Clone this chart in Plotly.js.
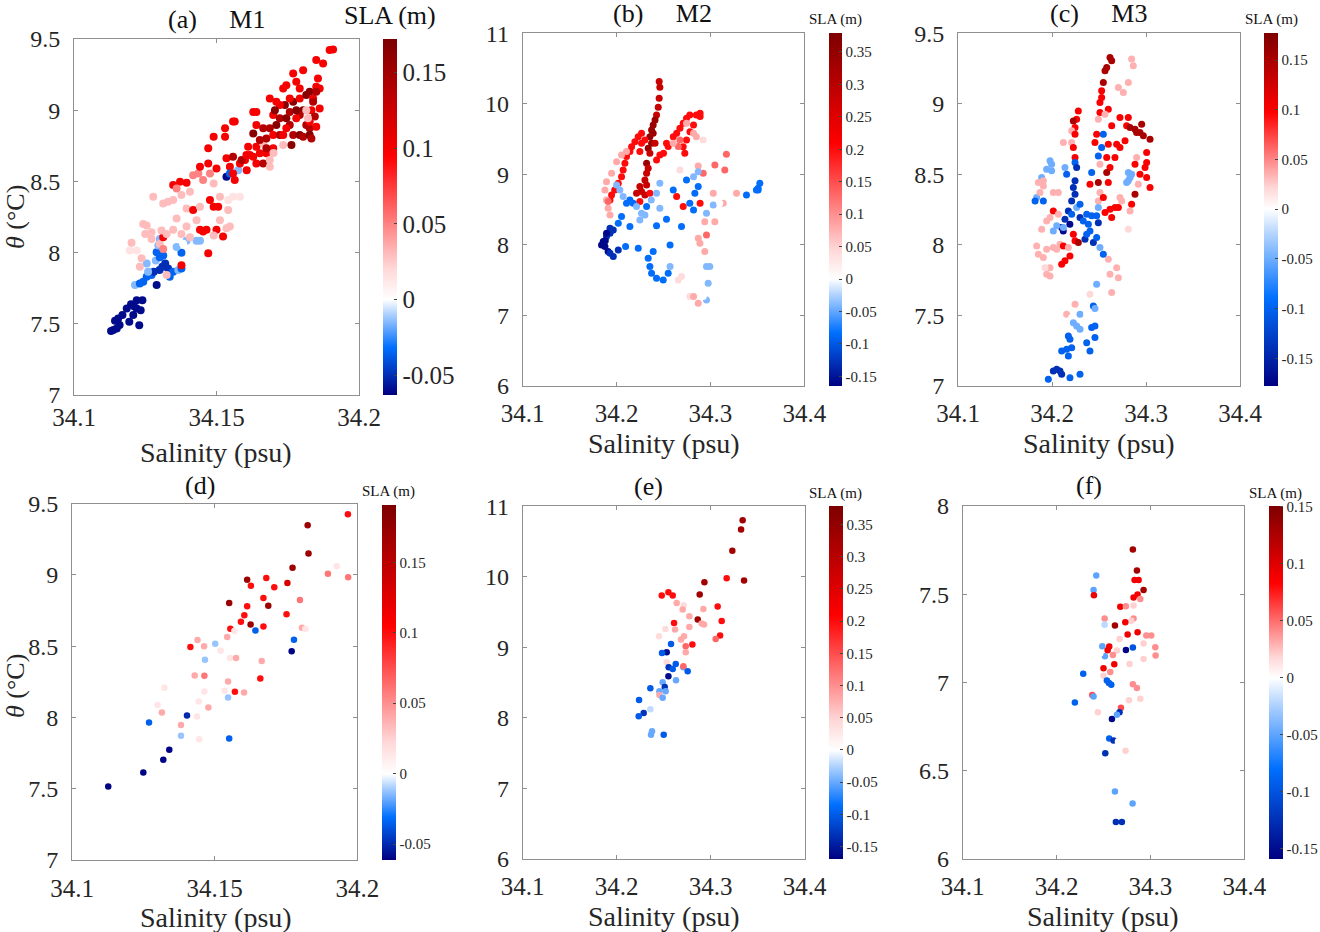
<!DOCTYPE html>
<html><head><meta charset="utf-8">
<script src="https://cdn.plot.ly/plotly-3.0.1.min.js"></script>
<style>html,body{margin:0;padding:0;background:#fff}#chart{width:1320px;height:932px}</style>
</head><body><div id="chart"></div>
<script>
// ---------------- DATA ----------------
// Panel (a) M1
const salA = [34.113,34.1144,34.1155,34.117,34.1185,34.120,34.1208,34.122,34.1229,34.1234,34.124,34.1194,34.116,34.122,34.121,34.1138,34.115,
34.1214,34.1231,34.1243,34.1255,34.1272,34.129,34.128,34.13,34.131,34.132,34.133,34.1336,34.1348,34.1366,34.1377,34.1377,34.129,34.1287,34.1301,34.1313,34.1296,34.1301,34.1336,34.1395,34.143,34.1442,34.136,34.1383,34.1255,34.126,
34.1196,34.1202,34.1243,34.1255,34.125,34.1237,34.1231,34.1202,34.122,34.1301,34.1313,34.1325,34.1377,34.1313,34.1307,34.1272,34.1272,34.1325,
34.1278,34.1313,34.133,34.1348,34.1348,34.1372,34.1395,34.136,34.1407,34.1418,34.1436,34.1442,34.1453,34.1471,34.1471,34.149,34.153,34.153,34.1558,34.1564,34.1547,34.1535,34.1558,34.149,34.150,34.1477,34.1377,34.1395,34.1418,34.1442,34.143,34.1442,34.1465,34.1453,34.150,34.1523,34.1471,34.1395,34.1377,34.136,34.1348,34.149,34.1506,34.1477,34.1512,34.1541,34.1558,34.1582,34.1541,34.1512,34.1547,34.1535,34.149,34.1407,
34.1535,34.1547,34.1576,
34.1558,34.1564,34.1582,34.16,34.1611,34.1629,34.1606,34.164,34.1664,34.1652,34.164,34.1664,34.1675,34.1687,34.1699,34.1629,34.164,34.164,34.1664,34.1675,34.1687,34.1699,34.1687,34.171,34.1699,34.1722,34.171,34.1722,34.174,34.1734,34.1734,34.1745,34.1757,34.1769,34.1757,34.1769,34.1763,34.1745,34.1734,34.1745,34.1769,34.178,34.1792,34.1804,34.1792,34.1804,34.1792,34.178,34.1815,34.1827,34.1839,34.1815,34.1827,34.1792,34.1804,34.1827,34.1833,34.1845,34.1827,34.1821,34.185,34.1833,34.185,34.1856,34.1862,34.1862,34.185,34.1874,34.1897,34.1909,34.185,34.1839,34.1815,34.178,34.1757,34.1722,34.1705,34.1652,34.1629,34.1617,34.1588,34.1605,34.1675,34.17,34.1687];
const thetaA = [7.449,7.521,7.537,7.561,7.607,7.638,7.561,7.607,7.49,7.596,7.666,7.514,7.491,7.666,7.624,7.456,7.467,
7.772,7.783,7.795,7.83,7.842,7.772,7.865,7.877,7.90,7.924,7.889,7.83,7.865,7.877,7.889,7.999,8.003,7.944,7.967,7.98,8.05,8.096,8.084,8.084,8.084,8.084,8.04,8.063,7.924,7.865,
8.014,8.07,8.2,8.19,8.131,7.96,7.90,7.83,8.014,8.061,8.026,7.842,7.912,8.108,8.155,8.096,8.143,8.131,
8.392,8.345,8.357,8.369,8.474,8.497,8.49,8.451,8.427,8.544,8.556,8.603,8.509,8.626,8.732,8.814,8.814,8.873,8.92,8.92,8.603,8.662,8.673,8.486,8.591,8.556,8.404,8.310,8.30,8.322,8.228,8.16,8.16,8.148,8.16,8.113,7.995,8.183,8.131,8.239,8.16,8.322,8.322,8.369,8.392,8.369,8.392,8.392,8.30,8.228,8.183,8.171,8.12,8.108,
8.533,8.556,8.579,
8.556,8.51,8.626,8.65,8.743,8.673,8.579,8.626,8.626,8.697,8.743,8.767,8.697,8.65,8.732,8.988,8.988,8.896,8.873,8.802,8.873,8.826,9.082,9.06,8.966,8.943,8.896,8.826,9.036,8.826,8.755,8.943,8.896,9.06,8.988,8.826,8.755,8.873,9.153,9.176,9.258,9.2,9.153,9.28,9.082,9.0,8.966,8.943,9.106,9.13,9.082,8.896,8.873,8.826,8.814,8.826,9.0,8.955,8.919,8.943,8.884,8.802,9.164,9.223,9.012,9.153,9.352,9.328,9.422,9.427,9.13,9.06,9.0,9.0,9.082,9.036,9.0,8.79,8.837,8.685,8.65,8.685,8.732,8.70,8.603];
const slaA = [-0.06,-0.06,-0.06,-0.06,-0.06,-0.06,-0.06,-0.06,-0.06,-0.06,-0.06,-0.06,-0.06,-0.06,-0.06,-0.06,-0.06,
-0.015,-0.035,-0.035,-0.035,-0.035,-0.06,-0.05,-0.05,-0.05,-0.05,-0.05,-0.035,-0.035,-0.015,-0.035,-0.035,-0.035,-0.015,-0.035,-0.035,-0.015,-0.015,0,-0.015,-0.015,-0.015,-0.015,0,-0.015,-0.015,
0.015,0.03,0.03,0.03,0.03,0.03,0.03,0,0.015,0.03,0.05,0.03,0.1,0.1,0.03,0.03,0.03,0.03,
0.03,0.03,0.03,0.03,0.1,0.1,0.1,0.05,0.03,0.05,0.05,0.1,0.05,0.1,0.1,0.1,0.1,0.1,0.1,0.1,0.1,0.1,0.14,0.03,0.1,0.05,0.03,0.03,0.1,0.03,0.03,0.1,0.1,0.1,0.1,0.1,0.1,0.03,0.03,0.03,0.03,0.1,0.1,0.1,0.03,0.015,0.015,0.015,0.03,0.03,0.03,0.03,0.03,0.03,
-0.06,-0.035,-0.015,
0.1,0.1,0.1,0.1,0.1,0.1,0.1,0.1,0.14,0.1,
0.1,0.03,0.1,0.03,0.1,0.1,0.1,0.1,0.14,0.14,
0.14,0.1,0.1,0.1,0.1,0.14,0.165,0.14,0.165,0.1,
0.03,0.165,0.14,0.165,0.14,0.14,0.165,0.1,0.1,0.1,
0.1,0.1,0.1,0.1,0.1,0.165,0.14,0.1,0.165,0.165,
0.1,0.14,0.14,0.165,0.14,0.165,0.1,0.14,0.1,0.03,
0.1,0.14,0.1,0.1,0.1,0.1,0.1,0.1,0.1,0.1,
0.14,0.14,0.03,0.165,0.1,0.1,0.165,0.14,0.165,0.1,
0.14,0.1,0.14,0.03,0.03];

// Panel (b) M2
const salB = [34.2454,34.2461,34.2454,34.2444,34.2426,34.241,34.239,34.2373,34.239,34.2355,34.2373,34.2337,34.2355,34.232,34.2337,34.232,34.2302,34.232,34.2266,34.2248,34.2213,34.2248,34.2302,34.2355,
34.2266,34.223,34.2195,34.216,34.2142,34.2106,34.2089,34.207,34.2053,34.2018,34.198,34.1947,34.193,34.2266,34.2248,34.2302,34.241,34.2426,34.2461,34.25,34.2532,34.255,
34.1893,34.1947,34.2,34.2053,34.2106,34.1876,34.1893,34.191,34.193,34.191,
34.2604,34.264,34.2675,34.271,34.2745,34.278,34.285,34.289,34.289,34.282,34.2782,34.2745,34.271,34.2675,34.2657,34.2727,34.282,34.285,34.2923,34.294,34.2675,34.2604,34.2745,
34.317,34.3047,34.3153,34.287,34.2923,34.303,34.3278,34.3136,34.294,34.3047,34.2958,34.287,34.2888,34.294,34.2692,34.2657,34.278,34.282,34.287,34.2958,34.2976,34.2958,34.2993,34.2923,
34.2,34.2035,34.207,34.2106,34.2142,34.2177,34.2213,34.2266,34.232,34.237,34.2426,34.2461,34.2532,34.2604,34.264,34.2745,34.282,34.287,34.287,34.2834,34.278,34.271,34.282,34.289,34.2958,34.303,34.31,34.3384,34.3508,34.3526,34.3508,34.349,
34.2053,34.2018,34.1965,34.193,34.1893,34.1858,34.184,34.1876,34.191,34.193,34.1965,34.2018,34.2096,34.2231,34.239,34.2337,34.2355,34.2373,34.2426,34.2497,34.255,34.257,34.257,34.2426,34.2532,34.2692,34.2142,34.2248,34.2302,34.2461,34.193,34.1893,34.186,34.188];
const thetaB = [10.315,10.234,10.078,9.951,9.842,9.771,9.70,9.63,9.582,9.535,9.441,9.37,9.299,9.157,9.086,9.016,8.921,8.85,8.756,8.827,8.732,8.614,8.709,8.732,
9.582,9.535,9.464,9.393,9.323,9.252,9.157,9.063,8.968,8.874,8.779,8.709,8.638,9.441,9.323,9.488,9.441,9.205,9.275,9.299,9.441,9.394,
8.897,9.016,9.18,9.275,9.323,8.78,8.638,8.52,8.425,8.614,
9.535,9.582,9.653,9.724,9.795,9.842,9.842,9.866,9.82,9.70,9.606,9.488,9.393,9.488,9.394,9.299,9.582,9.535,9.488,9.394,9.063,9.441,9.724,
9.285,9.134,9.063,9.119,9.016,8.732,8.732,8.59,8.33,8.33,8.142,8.094,8.024,7.906,7.551,7.504,7.268,7.268,7.173,7.22,7.457,7.693,7.693,7.268,
8.85,8.779,8.685,8.59,8.638,8.59,8.543,8.449,8.543,8.638,8.732,8.874,8.827,8.779,8.685,8.921,8.968,9.039,8.827,8.732,8.59,8.543,8.496,8.59,8.449,8.567,8.59,8.709,8.803,8.874,8.78,8.78,
8.402,8.307,8.213,8.165,8.118,8.047,8.0,7.976,7.906,7.882,7.835,7.929,7.976,7.953,7.906,7.811,7.693,7.598,7.528,7.504,7.598,7.693,8.0,8.27,8.364,8.26,8.26,8.354,8.425,8.52,8.236,8.165,8.03,8.06];
const slaB = [0.28,0.28,0.28,0.28,0.28,0.34,0.34,0.34,0.34,0.34,0.34,0.34,0.28,0.34,0.28,0.28,0.28,0.28,0.28,0.28,0.28,0.2,0.28,0.2,
0.2,0.2,0.2,0.2,0.2,0.2,0.2,0.2,0.2,0.2,0.2,0.2,0.2,0.2,0.2,0.2,0.28,0.2,0.2,0.2,0.2,0.2,
0.08,0.08,0.08,0.08,0.08,0.08,0.08,0.08,0.08,0.13,
0.2,0.2,0.2,0.2,0.2,0.2,0.2,0.2,0.2,0.2,0.2,0.2,0.2,0.13,0.13,0.2,0.08,0.08,0.04,0,0.04,0.08,0.08,
0.13,0.13,0.13,0.08,0.13,0.08,0.08,0.08,0.08,0.08,0.13,0.08,0.08,0.08,0.04,0.04,0.04,0.08,0.08,-0.04,-0.04,-0.04,-0.04,0,
-0.04,-0.04,-0.04,-0.085,-0.085,-0.085,-0.04,-0.04,-0.085,-0.04,-0.04,-0.04,0,-0.085,0.2,-0.085,-0.04,-0.04,-0.085,-0.085,-0.085,0.2,-0.085,0.2,-0.04,-0.04,0,-0.085,-0.085,-0.085,-0.085,-0.085,
-0.085,-0.085,-0.13,-0.13,-0.13,-0.16,-0.16,-0.16,-0.16,-0.13,-0.13,-0.13,-0.085,-0.085,-0.085,-0.085,-0.085,-0.085,-0.085,-0.085,-0.085,-0.04,-0.085,-0.085,-0.085,-0.085,-0.085,-0.04,-0.04,-0.04,-0.13,-0.16,-0.16,-0.16];

// Panel (c) M3
const salC = [34.2617,34.2635,34.2582,34.2564,34.2546,34.2528,34.2528,34.251,34.251,34.2493,34.2599,34.2564,34.2475,34.2457,34.2546,34.2528,34.2493,34.251,34.2582,34.2599,34.2688,34.2723,34.2635,34.2723,34.2812,34.2777,34.267,34.2617,
34.2847,34.2865,34.2812,34.2706,34.2759,34.2688,
34.2794,34.283,34.2883,34.29,34.2936,34.2954,34.2972,34.3043,34.3007,34.3007,34.299,34.3007,34.3043,34.2883,34.29,34.2936,34.2883,34.2847,34.283,34.29,34.2918,
34.2812,34.283,34.2812,34.2847,34.2794,
34.2582,34.2493,34.2599,34.2564,34.2617,34.267,34.2706,34.2635,34.2723,34.2741,34.2812,34.2688,34.251,34.2493,34.2546,34.2404,34.2422,
34.2262,34.2227,34.228,34.2245,34.2209,34.2245,34.2209,34.2227,34.2245,34.2121,34.2085,34.2032,34.1979,34.1996,
34.2138,34.2156,34.2245,34.2262,34.2245,34.2227,34.2245,34.2209,34.2174,34.2209,34.2138,34.2103,34.212,34.219,34.2298,34.2333,34.2369,34.2422,34.2387,34.2404,34.2351,34.2369,34.244,34.2475,34.2493,34.2475,34.2493,34.251,34.2546,34.2262,34.2298,34.2121,34.205,34.2014,34.1908,34.1837,34.182,34.189,34.1943,34.1996,
34.1908,34.1872,34.1855,34.1908,34.2014,34.2067,34.2014,34.2067,34.1979,34.189,34.1943,34.1837,34.1855,34.1908,34.1943,34.2014,34.205,34.2085,34.2121,34.2174,34.2191,34.2103,34.2138,34.1943,34.1979,34.1979,34.1925,34.2245,34.228,34.2227,
34.2599,34.2688,34.2706,34.2617,34.2635,34.2475,34.2404,34.2245,34.2156,34.2209,34.2298,34.244,34.2457,34.2369,34.2227,34.2262,34.2298,34.2422,34.2457,34.2457,34.2369,34.2404,34.2174,34.2191,34.2209,34.2156,34.2103,34.2174,34.2014,34.205,34.2085,34.2103,34.1961,34.2191,34.2298];
const thetaC = [9.328,9.305,9.258,9.234,9.151,9.092,9.045,9.009,8.939,8.891,8.962,8.927,8.785,8.726,8.785,8.69,8.631,8.572,8.619,8.714,8.714,8.69,8.844,8.903,8.903,8.738,8.619,8.548,
9.317,9.27,9.151,9.116,9.08,8.962,
8.844,8.832,8.82,8.797,8.797,8.856,8.773,8.749,8.655,8.584,8.548,8.478,8.407,8.572,8.619,8.501,8.36,8.288,8.241,8.442,8.43,
8.513,8.478,8.454,8.501,8.442,
8.513,8.442,8.442,8.229,8.253,8.265,8.265,8.194,8.336,8.312,8.111,8.111,8.371,8.312,8.336,8.43,8.513,
8.891,8.879,8.95,8.832,8.809,8.785,8.726,8.69,8.619,8.726,8.655,8.619,8.596,8.572,
8.548,8.501,8.584,8.548,8.454,8.407,8.359,8.312,8.241,8.217,8.182,8.123,8.099,8.147,8.194,8.17,8.217,8.206,8.147,8.099,8.04,8.076,8.017,8.052,8.158,8.206,8.265,7.981,7.934,8.265,8.288,8.123,8.135,8.099,8.312,8.336,8.312,8.478,8.537,8.525,
8.418,8.371,8.442,8.454,8.371,8.371,8.241,8.217,8.194,8.111,8.17,7.993,7.934,7.91,7.969,7.981,7.969,8.005,7.993,7.981,7.922,7.863,7.887,7.792,7.78,7.839,7.839,8.029,8.017,8.076,
7.898,7.839,7.768,7.792,7.662,7.721,7.65,7.579,7.508,7.485,7.508,7.567,7.55,7.508,7.449,7.426,7.402,7.414,7.426,7.343,7.307,7.248,7.355,7.331,7.272,7.26,7.248,7.213,7.106,7.118,7.106,7.083,7.047,7.059,7.083];
const slaC = [0.15,0.15,0.15,0.15,0.15,0.1,0.1,0.1,0.1,0.035,0.1,0.035,0.1,0.1,-0.1,-0.1,-0.1,0.035,0.1,0.1,0.1,0.1,0.1,0.1,0.1,0.1,0.1,0.1,
0.035,0.035,0.035,0.035,0.035,0,
0.1,0.15,0.15,0.15,0.15,0.15,0.15,0.15,0.1,0.1,0.1,0.1,0.1,0.1,0.035,0.1,0.15,0.1,0.035,0,0.035,
-0.05,-0.05,-0.05,-0.05,-0.05,
0.15,0.15,0.1,0.1,0.1,0.1,0.1,0.1,0.035,0.035,0.02,0,0.035,0.035,0.1,0.1,-0.1,
0.1,0.15,0.1,0.1,0.035,0.1,0.035,0.1,0.1,0.035,0,0,-0.05,-0.05,
-0.05,-0.1,-0.1,-0.14,-0.14,-0.14,-0.14,-0.14,-0.14,-0.1,-0.14,-0.17,-0.17,-0.17,-0.14,-0.1,-0.1,-0.1,-0.1,-0.1,-0.14,-0.1,-0.14,-0.1,-0.14,-0.1,-0.05,-0.05,-0.1,-0.05,-0.1,-0.05,-0.05,-0.05,-0.1,-0.05,-0.1,-0.05,-0.05,-0.05,
0.035,0.035,0.035,0.035,0.035,0.035,0.1,0.035,0.035,0.035,0.035,0.035,0.035,0.035,0.035,0.035,0.035,0.035,0.1,0.035,0.1,0.1,0.1,0.035,0.035,0.035,0.02,0.1,0.15,0.1,
0.035,0.035,0.035,0.035,0.035,-0.05,0.02,0.035,0.035,0,-0.05,-0.1,-0.05,0,-0.05,-0.05,-0.05,-0.1,-0.1,-0.1,-0.1,-0.1,-0.1,-0.1,-0.1,-0.1,-0.1,-0.1,-0.14,-0.14,-0.14,-0.14,-0.1,-0.1,-0.1];

// Panel (d)
const salD = [34.1127,34.125,34.132,34.1341,34.127,34.1403,34.1382,34.1382,34.1446,34.1551,34.1315,34.13,34.1324,34.14,34.1438,34.1444,34.1478,34.1464,34.143,34.1464,34.1466,34.144,34.1415,34.1463,34.1502,34.1521,34.1544,34.1554,34.1575,34.1547,34.1535,34.1547,34.1571,34.1603,34.1665,34.166,34.1551,34.1555,34.1569,34.1592,34.1604,34.1614,34.1626,34.1643,34.1614,34.1627,34.1671,34.1671,34.1688,34.1681,34.1709,34.1755,34.1752,34.1773,34.1799,34.1806,34.1818,34.1778,34.177,34.1826,34.1829,34.1897,34.1928,34.1968,34.1967];
const thetaD = [7.515,7.614,7.703,7.773,7.965,8.014,7.871,7.948,7.848,7.852,8.035,8.087,8.208,8.176,8.007,8.112,8.07,8.183,8.295,8.293,8.405,8.543,8.494,8.499,8.518,8.468,8.564,8.417,8.417,8.141,8.187,8.253,8.18,8.176,8.396,8.274,8.803,8.623,8.607,8.672,8.717,8.78,8.653,8.611,8.967,8.925,8.639,8.838,8.784,8.979,8.913,8.944,8.724,9.051,8.824,8.63,8.621,8.546,8.464,9.349,9.15,9.009,9.061,8.984,9.426];
const slaD = [-0.06,-0.06,-0.06,-0.06,-0.035,-0.05,-0.012,0.04,0.015,-0.035,
0.04,0.015,0.015,0,0.015,0.015,0.04,0.015,0.04,0.06,
-0.012,0.04,0.1,0.04,-0.012,0.015,0.04,0.015,0.04,-0.012,
0.015,0.04,0.1,0.04,0.04,0.1,0.17,0.1,0.015,0.1,
0.1,0.1,0.17,-0.035,0.17,0.1,0.1,0.1,0.17,0.1,
0.1,0.13,0.1,0.17,0.06,0.04,0.015,-0.035,-0.06,0.17,
0.17,0.06,0.015,0.06,0.1];

// Panel (e)
const salE = [34.334,34.3323,34.323,34.3355,34.317,34.2933,34.2883,34.3074,34.3117,34.31,34.3053,34.2922,34.2862,34.2904,34.2929,34.2805,34.2773,34.2773,34.2479,34.255,34.2596,34.2638,34.2713,34.2702,34.261,34.2621,34.2518,34.245,34.2567,34.2684,34.2716,34.2734,34.2734,34.2578,34.2532,34.2482,34.2638,34.2436,34.2532,34.2628,34.2553,34.2596,34.2709,34.2755,34.2709,34.255,34.2631,34.2489,34.2511,34.2358,34.2454,34.2521,34.2454,34.2489,34.2238,34.2358,34.2287,34.2234,34.2376,34.2365,34.25];
const thetaE = [10.803,10.671,10.368,9.946,9.98,9.923,9.748,9.577,9.374,9.166,9.118,9.544,9.393,9.336,9.322,9.038,9.44,9.289,9.733,9.781,9.733,9.629,9.596,9.535,9.345,9.251,9.26,9.156,9.133,9.109,9.156,9.014,8.929,9.047,8.929,8.92,8.929,8.778,8.787,8.763,8.716,8.692,8.716,8.659,8.73,8.588,8.531,8.503,8.437,8.418,8.375,8.375,8.323,8.285,8.252,8.12,8.068,8.02,7.807,7.76,7.76];
const slaE = [0.33,0.33,0.33,0.33,0.2,0.33,0.33,0.2,0.2,0.2,0.13,0.08,0.33,0.08,0.08,0.2,0.08,0.08,0.2,0.2,0.2,0.08,0.04,0.08,0.2,0.08,0.04,0.04,0,0.08,0.08,0.13,0.08,-0.1,-0.16,-0.1,0,0,0.04,-0.1,-0.13,-0.1,-0.05,-0.1,0.13,-0.16,-0.05,-0.05,-0.13,-0.1,-0.05,-0.05,0.08,-0.05,-0.1,-0.02,-0.13,-0.1,-0.05,-0.05,-0.1];

// Panel (f)
const salF = [34.2813,34.2856,34.2831,34.2874,34.2927,34.2863,34.282,34.2892,34.2423,34.2394,34.2398,34.2679,34.2739,34.282,34.2512,34.282,34.2796,34.2732,34.2622,34.2487,34.2512,34.2973,34.2757,34.2863,34.2956,34.3009,34.2927,34.3052,34.3055,34.2927,34.2671,34.2487,34.2561,34.2544,34.2739,34.2813,34.2643,34.26,34.2515,34.2465,34.2615,34.2778,34.25,34.2572,34.25,34.2536,34.2583,34.2558,34.2284,34.2195,34.238,34.2394,34.244,34.259,34.2686,34.2671,34.2643,34.2813,34.2856,34.2892,34.2806,34.2771,34.2561,34.2607,34.2654,34.2519,34.2735,34.2622,34.281,34.2632,34.2696];
const thetaF = [7.754,7.634,7.581,7.581,7.523,7.498,7.481,7.473,7.606,7.523,7.494,7.428,7.432,7.436,7.362,7.362,7.35,7.341,7.322,7.324,7.326,7.337,7.271,7.284,7.265,7.265,7.22,7.199,7.152,7.133,7.246,7.205,7.203,7.182,7.184,7.197,7.18,7.155,7.148,7.163,7.102,7.104,7.08,7.059,7.038,7.011,6.987,6.996,7.049,6.886,6.928,6.92,6.83,6.792,6.856,6.83,6.816,6.989,6.968,6.907,6.909,6.898,6.682,6.67,6.665,6.598,6.612,6.381,6.313,6.208,6.208];
const slaF = [0.13,0.13,0.09,0.09,0.13,0.09,0.09,0.04,-0.05,-0.05,0.09,0.09,0.04,0.02,0.04,0.04,0.02,0.09,0.13,0,-0.02,0,0.09,0.09,0.04,0.04,0.02,0.04,0.04,0.02,0.02,-0.05,0.09,0.09,-0.155,-0.1,0.02,0.04,-0.05,0,0.09,0.02,0.09,0.04,0.02,-0.09,-0.09,-0.09,-0.09,-0.09,0.06,-0.05,0.02,-0.155,0.06,-0.125,-0.05,0.04,0.04,0.02,0,0.02,-0.09,-0.125,0,-0.125,0.02,-0.05,-0.05,-0.125,-0.125];

// Tick values / labels
const salTicksNarrow = [34.1, 34.15, 34.2];
const salTicksWide = [34.1, 34.2, 34.3, 34.4];
const thetaTicksM1 = [7, 7.5, 8, 8.5, 9, 9.5];
const thetaTicksM2 = [6, 7, 8, 9, 10, 11];
const thetaTicksF = [6, 6.5, 7, 7.5, 8];
const slaTicksSmall = [-0.05, 0, 0.05, 0.1, 0.15];
const slaTicksLarge = [-0.15, -0.1, -0.05, 0, 0.05, 0.1, 0.15, 0.2, 0.25, 0.3, 0.35];
const slaTicksSym = [-0.15, -0.1, -0.05, 0, 0.05, 0.1, 0.15];
const panelTitles = ['(a)\u00A0\u00A0\u00A0\u00A0\u00A0M1','(b)\u00A0\u00A0\u00A0\u00A0\u00A0M2','(c)\u00A0\u00A0\u00A0\u00A0\u00A0M3','(d)','(e)','(f)'];

// ---------------- LAYOUT ----------------
const W = 1320, H = 932;
const FONT = 'Liberation Serif, Times New Roman, serif';
const px = x => x / W, py = y => 1 - y / H;

function makeScale(cmin, cmax) {
  const f0 = -cmin / (cmax - cmin);
  return [
    [0, 'rgb(0,0,128)'],
    [f0 * 0.5, 'rgb(0,112,255)'],
    [f0 * 0.85, 'rgb(175,210,255)'],
    [f0, 'rgb(255,255,255)'],
    [f0 + (1 - f0) * 0.12, 'rgb(255,215,215)'],
    [f0 + (1 - f0) * 0.55, 'rgb(255,0,0)'],
    [1, 'rgb(125,0,0)']
  ];
}
const fmt = v => (v === 0 ? '0' : String(v));

const panels = [
  {sal: salA, th: thetaA, sla: slaA, xd:[74,359], yd:[39,395], xr:[34.1,34.2], xt: salTicksNarrow, yr:[7,9.5], yt: thetaTicksM1,
   cb:{x:383, w:14, top:39, bot:395, cmin:-0.063, cmax:0.172, ticks: slaTicksSmall, fs:25}, ms:8, title:[216,20], cbt:[390,15,26], xlab:[216,452], ylab:[15,217], xstand:0},
  {sal: salB, th: thetaB, sla: slaB, xd:[522.7,804.3], yd:[33.3,386], xr:[34.1,34.4], xt: salTicksWide, yr:[6,11], yt: thetaTicksM2,
   cb:{x:829, w:13.3, top:33.3, bot:386, cmin:-0.165, cmax:0.379, ticks: slaTicksLarge, fs:15}, ms:7, title:[662.5,14], cbt:[835,20,15], xlab:[664,443], xstand:5},
  {sal: salC, th: thetaC, sla: slaC, xd:[958,1240], yd:[33.3,386], xr:[34.1,34.4], xt: salTicksWide, yr:[7,9.5], yt: thetaTicksM1,
   cb:{x:1264, w:13.7, top:33.3, bot:386, cmin:-0.178, cmax:0.177, ticks: slaTicksSym, fs:15}, ms:7, title:[1098,14], cbt:[1271,20,15], xlab:[1099,443], xstand:5},
  {sal: salD, th: thetaD, sla: slaD, xd:[72,357.3], yd:[503.7,860], xr:[34.1,34.2], xt: salTicksNarrow, yr:[7,9.5], yt: thetaTicksM1,
   cb:{x:381.7, w:13.6, top:504.7, bot:859.3, cmin:-0.061, cmax:0.191, ticks: slaTicksSmall, fs:15}, ms:6.5, title:[200,485], cbt:[388,491,15], xlab:[216,917], ylab:[15,686], xstand:6},
  {sal: salE, th: thetaE, sla: slaE, xd:[522.7,804.7], yd:[506.3,858.7], xr:[34.1,34.4], xt: salTicksWide, yr:[6,11], yt: thetaTicksM2,
   cb:{x:829, w:13.7, top:506, bot:858.7, cmin:-0.169, cmax:0.379, ticks: slaTicksLarge, fs:15}, ms:6.5, title:[648.5,487], cbt:[835.5,493,15], xlab:[664,916], xstand:5},
  {sal: salF, th: thetaF, sla: slaF, xd:[962.7,1244.3], yd:[506,858.7], xr:[34.1,34.4], xt: salTicksWide, yr:[6,8], yt: thetaTicksF,
   cb:{x:1268.7, w:13.6, top:506, bot:858.7, cmin:-0.159, cmax:0.151, ticks: slaTicksSym, fs:15}, ms:6.5, title:[1088.5,485], cbt:[1275,493,15], xlab:[1102.5,916], xstand:5}
];

const traces = [];
const layout = {
  width: W, height: H, margin: {l:0, r:0, t:0, b:0, autoexpand:false},
  paper_bgcolor: '#fff', plot_bgcolor: '#fff', showlegend: false, hovermode: false,
  font: {family: FONT, color: '#262626'},
  annotations: []
};

panels.forEach((p, i) => {
  const n = i === 0 ? '' : String(i + 1);
  const xa = 'xaxis' + n, ya = 'yaxis' + n;
  const common = {showgrid:false, zeroline:false, showline:true, mirror:'ticks', linecolor:'#8f8f8f', linewidth:1,
    ticks:'inside', ticklen:4, tickcolor:'#8f8f8f', fixedrange:true};
  layout[xa] = Object.assign({}, common, {domain:[px(p.xd[0]), px(p.xd[1])], range:p.xr, anchor:'y' + n,
    tickfont:{family:FONT, size:25, color:'#262626'},
    tickmode:'array', tickvals:p.xt, ticktext:p.xt.map(String), ticklabelstandoff:p.xstand});
  layout[ya] = Object.assign({}, common, {domain:[py(p.yd[1]), py(p.yd[0])], range:p.yr, anchor:'x' + n,
    tickfont:{family:FONT, size:24, color:'#262626'},
    tickmode:'array', tickvals:p.yt, ticktext:p.yt.map(String), ticklabelstandoff:8});
  const c = p.cb;
  traces.push({
    type:'scatter', mode:'markers', x:p.sal, y:p.th, xaxis:'x' + n, yaxis:'y' + n,
    marker:{size:p.ms, color:p.sla, cmin:c.cmin, cmax:c.cmax, colorscale:makeScale(c.cmin, c.cmax), line:{width:0},
      showscale:true,
      colorbar:{x:px(c.x), xanchor:'left', y:py((c.top + c.bot) / 2), yanchor:'middle',
        len:c.bot - c.top, lenmode:'pixels', thickness:c.w, thicknessmode:'pixels', xpad:0, ypad:0,
        outlinewidth:0, tickmode:'array', tickvals:c.ticks, ticktext:c.ticks.map(fmt),
        ticks:'inside', ticklen:3, tickcolor:'#444', tickfont:{family:FONT, size:c.fs, color:'#262626'}}}
  });
  layout.annotations.push({xref:'paper', yref:'paper', x:px(p.title[0]), y:py(p.title[1]), xanchor:'center', yanchor:'middle',
    text:panelTitles[i], showarrow:false, font:{family:FONT, size:26, color:'#111'}});
  layout.annotations.push({xref:'paper', yref:'paper', x:px(p.cbt[0]), y:py(p.cbt[1]), xanchor:'center', yanchor:'middle',
    text:'SLA (m)', showarrow:false, font:{family:FONT, size:p.cbt[2], color:'#111'}});
  layout.annotations.push({xref:'paper', yref:'paper', x:px(p.xlab[0]), y:py(p.xlab[1]), xanchor:'center', yanchor:'middle',
    text:'Salinity (psu)', showarrow:false, font:{family:FONT, size:28, color:'#262626'}});
  if (p.ylab) {
    layout.annotations.push({xref:'paper', yref:'paper', x:px(p.ylab[0]), y:py(p.ylab[1]), xanchor:'center', yanchor:'middle',
      text:'<i>θ</i> (°C)', textangle:-90, showarrow:false, font:{family:FONT, size:26, color:'#262626'}});
  }
});

Plotly.newPlot('chart', traces, layout, {staticPlot:true, displayModeBar:false});
</script></body></html>
